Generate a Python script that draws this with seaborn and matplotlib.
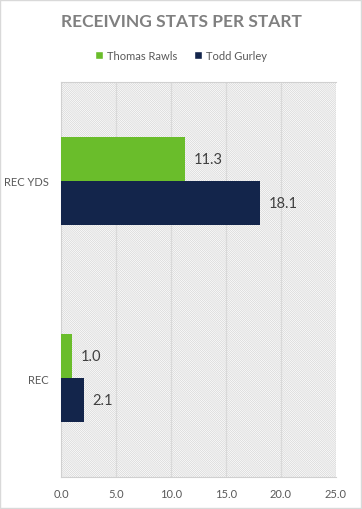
import matplotlib
matplotlib.use("Agg")
import matplotlib.pyplot as plt
import seaborn as sns
import pandas as pd
from matplotlib.patches import Rectangle

categories = ["REC YDS", "REC"]
players = ["Thomas Rawls", "Todd Gurley"]
rawls_values = [11.3, 1.0]
gurley_values = [18.1, 2.1]
x_ticks = [0, 5, 10, 15, 20, 25]
colors = ["#6abd2b", "#13254b"]

df = pd.DataFrame({
    "stat": categories * 2,
    "player": [players[0]] * 2 + [players[1]] * 2,
    "value": rawls_values + gurley_values,
})

sns.set_theme(style="white")
plt.rcParams["font.family"] = ["Lato", "DejaVu Sans"]
plt.rcParams["hatch.linewidth"] = 0.5
plt.rcParams["hatch.color"] = "#d4d4d4"

fig = plt.figure(figsize=(3.62, 5.10), dpi=100)
ax = fig.add_axes([61 / 362, 1 - 478 / 510, 275 / 362, 395 / 510])
ax.set_facecolor("white")

# hatched background
bg = Rectangle((0, 0), 1, 1, transform=ax.transAxes, facecolor="white",
               edgecolor="#d4d4d4", hatch="\\" * 16, linewidth=0, zorder=0)
ax.add_patch(bg)

sns.barplot(data=df, y="stat", x="value", hue="player", order=categories,
            hue_order=players, palette=colors, orient="h", width=0.446,
            errorbar=None, saturation=1, ax=ax, zorder=3, legend=False,
            linewidth=0, edgecolor="none")

for cont in ax.containers:
    ax.bar_label(cont, fmt="%.1f", padding=6, fontsize=10.5, color="#404040")

ax.set_xlim(0, 25)
ax.set_ylim(1.5, -0.5)
ax.set_xticks(x_ticks)
ax.set_xticklabels([f"{v:.1f}" for v in x_ticks])
ax.set_xlabel("")
ax.set_ylabel("")
for v in x_ticks[1:]:
    ax.axvline(v, color="#d9d9d9", linewidth=0.9, zorder=1)
ax.tick_params(axis="x", length=0, labelsize=8, labelcolor="#595959", pad=8)
ax.tick_params(axis="y", length=0, labelsize=8, labelcolor="#595959", pad=9)
ax.set_yticks([0.5], minor=True)
ax.tick_params(axis="y", which="minor", length=5, color="#d0d0d0", width=0.8)
for s in ["left", "bottom", "top"]:
    ax.spines[s].set_color("#d0d0d0")
    ax.spines[s].set_linewidth(0.8)
ax.spines["right"].set_visible(False)

fig.text(0.5, 1 - 22 / 510, "RECEIVING STATS PER START", ha="center", va="center",
         fontsize=12.5, color="#808080", fontweight="bold")

handles = [Rectangle((0, 0), 1, 1, facecolor=c) for c in colors]
fig.legend(handles, players, loc="center", bbox_to_anchor=(0.5, 1 - 56 / 510),
           ncol=2, frameon=False, fontsize=8, labelcolor="#595959",
           handlelength=0.7, handleheight=0.7, handletextpad=0.4, columnspacing=1.5)

fig.patches.append(Rectangle((0.001, 0.001), 0.997, 0.997, transform=fig.transFigure,
                             fill=False, edgecolor="#d9d9d9", linewidth=1))

fig.savefig("out.png", dpi=100)
